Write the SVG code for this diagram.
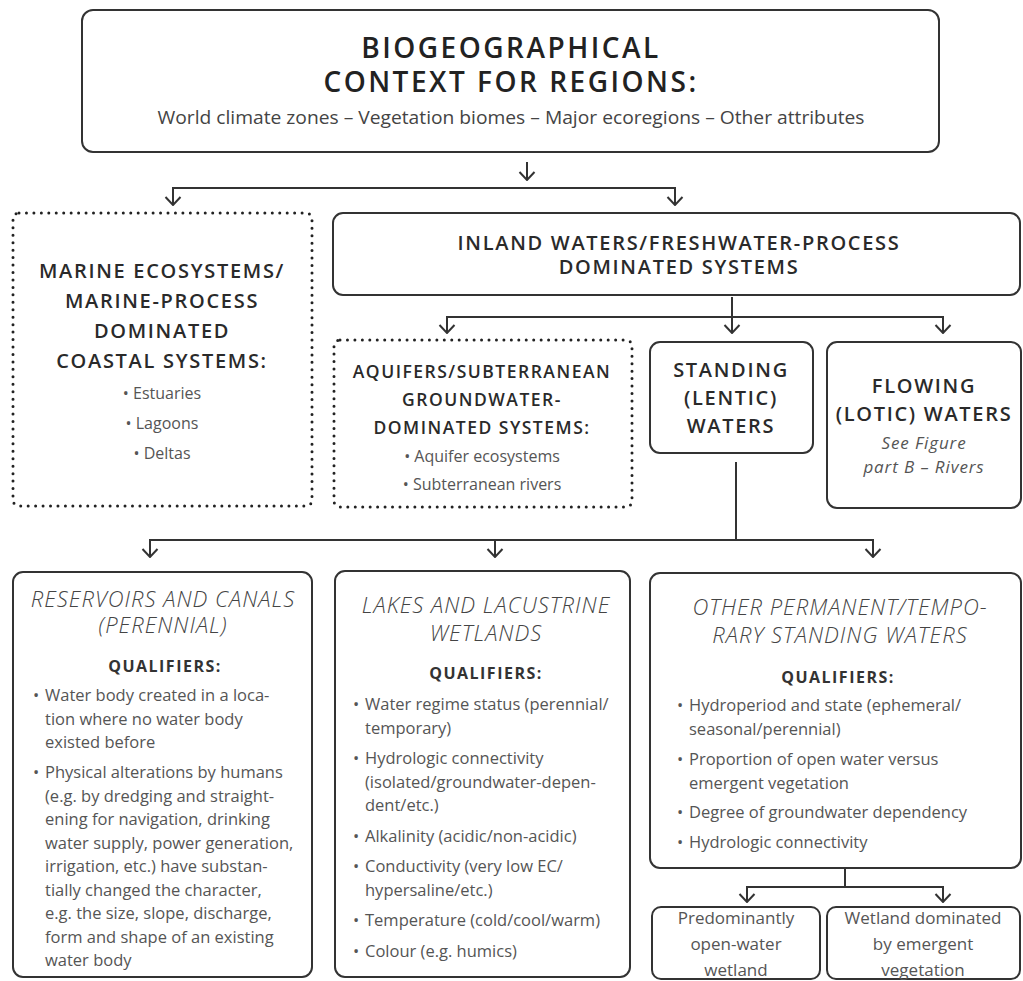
<svg xmlns="http://www.w3.org/2000/svg" width="1023" height="981" viewBox="0 0 1023 981">
<style>
.box{fill:#fff;stroke:#333;stroke-width:2}
.dot{fill:#fff;stroke:#222;stroke-width:3;stroke-linecap:round;stroke-dasharray:0 7.45}
.c{fill:none;stroke:#333;stroke-width:2}
text{font-family:"Open Sans","Liberation Sans",sans-serif}
.ttl{font-size:28px;font-weight:600;fill:#222;text-anchor:middle;letter-spacing:2.5px}
.sub{font-size:18px;fill:#444;text-anchor:middle}
.h{font-size:20px;font-weight:600;fill:#2a2a2a;text-anchor:middle;letter-spacing:1.7px}
.ha{font-size:17.5px;letter-spacing:1.5px}
.li{font-size:16px;fill:#555;text-anchor:middle}
.it{font-size:22px;font-style:italic;font-weight:300;fill:#444;text-anchor:middle;letter-spacing:1px}
.q{font-size:16px;font-weight:700;fill:#333;text-anchor:middle;letter-spacing:1.5px}
.b{font-size:16.5px;fill:#555}
.ref{font-size:17px;font-style:italic;fill:#555;text-anchor:middle;letter-spacing:0.9px}
.sm{font-size:17px;fill:#555;text-anchor:middle}
</style>
<defs>
<marker id="ah" viewBox="0 0 10 18" refX="9" refY="9" markerWidth="10" markerHeight="18" markerUnits="userSpaceOnUse" orient="auto">
<path d="M1,1.5 L9,9 L1,16.5" fill="none" stroke="#333" stroke-width="2"/>
</marker>
</defs>

<g id="connectors" class="c" marker-end="url(#ah)">
<path d="M527,162 V180"/>
<path d="M424,188 H173 V205"/>
<path d="M424,188 H675 V205"/>
<path d="M732,297 V333"/>
<path d="M732,317 H447 V333"/>
<path d="M732,317 H943 V333"/>
<path d="M736,540 H150 V557"/>
<path d="M736,540 H873 V557"/>
<path d="M495,540 V557"/>
<path d="M845,887 H747 V902"/>
<path d="M845,887 H943 V902"/>
</g>
<g id="connector-stems" class="c">
<path d="M736,462 V540"/>
<path d="M845,868 V887"/>
</g>

<g id="biogeo">
<rect class="box" x="82" y="10" width="857" height="142" rx="11"/>
<text class="ttl" x="511" y="58">BIOGEOGRAPHICAL</text>
<text class="ttl" x="511" y="92">CONTEXT FOR REGIONS:</text>
<text class="sub" x="511" y="124" textLength="707" lengthAdjust="spacingAndGlyphs">World climate zones – Vegetation biomes – Major ecoregions – Other attributes</text>
</g>

<g id="marine">
<rect class="dot" x="13" y="213" width="299" height="293" rx="6"/>
<text class="h" x="162" y="278">MARINE ECOSYSTEMS/</text>
<text class="h" x="162" y="308">MARINE-PROCESS</text>
<text class="h" x="162" y="338">DOMINATED</text>
<text class="h" x="162" y="368">COASTAL SYSTEMS:</text>
<text class="li" x="162" y="399">• Estuaries</text>
<text class="li" x="162" y="429">• Lagoons</text>
<text class="li" x="162" y="459">• Deltas</text>
</g>

<g id="inland">
<rect class="box" x="333" y="213" width="687" height="82" rx="10"/>
<text class="h" x="679" y="250">INLAND WATERS/FRESHWATER-PROCESS</text>
<text class="h" x="679" y="274">DOMINATED SYSTEMS</text>
</g>

<g id="aquifers">
<rect class="dot" x="334" y="340" width="298" height="167" rx="6"/>
<text class="h ha" x="482" y="378">AQUIFERS/SUBTERRANEAN</text>
<text class="h ha" x="482" y="406">GROUNDWATER-</text>
<text class="h ha" x="482" y="434">DOMINATED SYSTEMS:</text>
<text class="li" x="482" y="462">• Aquifer ecosystems</text>
<text class="li" x="482" y="490">• Subterranean rivers</text>
</g>

<g id="standing">
<rect class="box" x="650" y="342" width="163" height="111" rx="10"/>
<text class="h" x="731" y="377">STANDING</text>
<text class="h" x="731" y="405">(LENTIC)</text>
<text class="h" x="731" y="433">WATERS</text>
</g>

<g id="flowing">
<rect class="box" x="827" y="342" width="194" height="166" rx="10"/>
<text class="h" x="924" y="393">FLOWING</text>
<text class="h" x="924" y="421">(LOTIC) WATERS</text>
<text class="ref" x="924" y="449">See Figure</text>
<text class="ref" x="924" y="473">part B – Rivers</text>
</g>

<g id="reservoirs">
<rect class="box" x="13" y="572" width="299" height="405" rx="10"/>
<text class="it" x="163" y="607">RESERVOIRS AND CANALS</text>
<text class="it" x="163" y="633">(PERENNIAL)</text>
<text class="q" x="165" y="672">QUALIFIERS:</text>
<text class="b" x="33" y="701">•</text>
<text class="b" x="45" y="701">Water body created in a loca-</text>
<text class="b" x="45" y="724.5">tion where no water body</text>
<text class="b" x="45" y="748">existed before</text>
<text class="b" x="33" y="778">•</text>
<text class="b" x="45" y="778">Physical alterations by humans</text>
<text class="b" x="45" y="801.5">(e.g. by dredging and straight-</text>
<text class="b" x="45" y="825">ening for navigation, drinking</text>
<text class="b" x="45" y="848.5">water supply, power generation,</text>
<text class="b" x="45" y="872">irrigation, etc.) have substan-</text>
<text class="b" x="45" y="895.5">tially changed the character,</text>
<text class="b" x="45" y="919">e.g. the size, slope, discharge,</text>
<text class="b" x="45" y="942.5">form and shape of an existing</text>
<text class="b" x="45" y="966">water body</text>
</g>

<g id="lakes">
<rect class="box" x="335" y="571" width="295" height="406" rx="10"/>
<text class="it" x="486" y="613">LAKES AND LACUSTRINE</text>
<text class="it" x="486" y="641">WETLANDS</text>
<text class="q" x="486" y="679">QUALIFIERS:</text>
<text class="b" x="353" y="710">•</text>
<text class="b" x="365" y="710">Water regime status (perennial/</text>
<text class="b" x="365" y="733.5">temporary)</text>
<text class="b" x="353" y="764">•</text>
<text class="b" x="365" y="764">Hydrologic connectivity</text>
<text class="b" x="365" y="787.5">(isolated/groundwater-depen-</text>
<text class="b" x="365" y="811">dent/etc.)</text>
<text class="b" x="353" y="841.5">•</text>
<text class="b" x="365" y="841.5">Alkalinity (acidic/non-acidic)</text>
<text class="b" x="353" y="872">•</text>
<text class="b" x="365" y="872">Conductivity (very low EC/</text>
<text class="b" x="365" y="895.5">hypersaline/etc.)</text>
<text class="b" x="353" y="926">•</text>
<text class="b" x="365" y="926">Temperature (cold/cool/warm)</text>
<text class="b" x="353" y="956.5">•</text>
<text class="b" x="365" y="956.5">Colour (e.g. humics)</text>
</g>

<g id="other">
<rect class="box" x="650" y="573" width="371" height="295" rx="10"/>
<text class="it" x="840" y="615">OTHER PERMANENT/TEMPO-</text>
<text class="it" x="840" y="643">RARY STANDING WATERS</text>
<text class="q" x="838" y="683">QUALIFIERS:</text>
<text class="b" x="677" y="711">•</text>
<text class="b" x="689" y="711">Hydroperiod and state (ephemeral/</text>
<text class="b" x="689" y="734.5">seasonal/perennial)</text>
<text class="b" x="677" y="765">•</text>
<text class="b" x="689" y="765">Proportion of open water versus</text>
<text class="b" x="689" y="788.5">emergent vegetation</text>
<text class="b" x="677" y="818">•</text>
<text class="b" x="689" y="818">Degree of groundwater dependency</text>
<text class="b" x="677" y="848">•</text>
<text class="b" x="689" y="848">Hydrologic connectivity</text>
</g>

<g id="open-water">
<rect class="box" x="652" y="907" width="168" height="72" rx="9"/>
<text class="sm" x="736" y="924">Predominantly</text>
<text class="sm" x="736" y="950">open-water</text>
<text class="sm" x="736" y="976">wetland</text>
</g>

<g id="emergent">
<rect class="box" x="827" y="907" width="193" height="72" rx="9"/>
<text class="sm" x="923" y="924">Wetland dominated</text>
<text class="sm" x="923" y="950">by emergent</text>
<text class="sm" x="923" y="976">vegetation</text>
</g>
</svg>
